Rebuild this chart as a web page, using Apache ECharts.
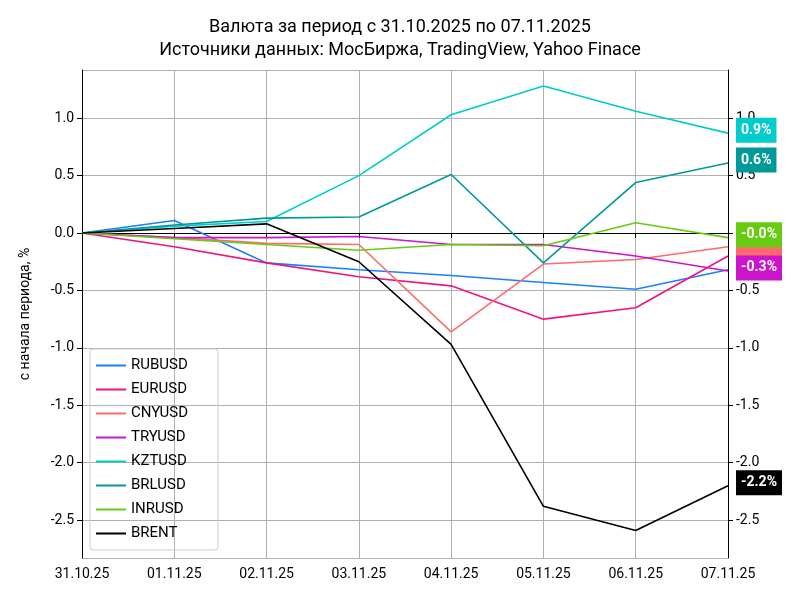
<!DOCTYPE html>
<html><head><meta charset="utf-8">
<script src="https://cdn.jsdelivr.net/npm/echarts@6/dist/echarts.min.js"></script>
<style>html,body{margin:0;padding:0;background:#fff}#c{width:800px;height:600px}</style>
</head><body><div id="c"></div>
<script>
const categories = ['31.10.25','01.11.25','02.11.25','03.11.25','04.11.25','05.11.25','06.11.25','07.11.25'];
const seriesNames = ['RUBUSD','EURUSD','CNYUSD','TRYUSD','KZTUSD','BRLUSD','INRUSD','BRENT'];
const RUBUSD = [0, 0.11, -0.26, -0.32, -0.37, -0.43, -0.49, -0.32];
const EURUSD = [0, -0.12, -0.26, -0.38, -0.46, -0.75, -0.65, -0.20];
const CNYUSD = [0, -0.04, -0.09, -0.10, -0.86, -0.27, -0.23, -0.12];
const TRYUSD = [0, -0.04, -0.04, -0.03, -0.10, -0.10, -0.20, -0.33];
const KZTUSD = [0, 0.06, 0.10, 0.50, 1.03, 1.28, 1.06, 0.87];
const BRLUSD = [0, 0.07, 0.13, 0.14, 0.51, -0.26, 0.44, 0.61];
const INRUSD = [0, -0.05, -0.10, -0.15, -0.10, -0.11, 0.09, -0.04];
const BRENT = [0, 0.04, 0.08, -0.25, -0.97, -2.38, -2.59, -2.20];
const values = [RUBUSD, EURUSD, CNYUSD, TRYUSD, KZTUSD, BRLUSD, INRUSD, BRENT];
const colors = ['#1a80ff','#f0147f','#ff6a6a','#cc14cc','#00cccc','#009999','#66cc11','#000000'];

const chart = echarts.init(document.getElementById('c'));
const fmt = v => (Math.abs(v) < 1e-9 ? 0 : v).toFixed(1);
const yCommon = {type:'value', min:-2.83, max:1.42, splitNumber:8,
  axisLine:{show:true,lineStyle:{color:'#000'}}, axisTick:{show:true,length:5,lineStyle:{color:'#000'}}};
chart.setOption({
  animation:false,
  textStyle:{fontFamily:'Roboto'},
  title:{text:'Валюта за период с 31.10.2025 по 07.11.2025\nИсточники данных: МосБиржа, TradingView, Yahoo Finace',
    left:'center', top:11, textStyle:{fontSize:18, fontWeight:'normal', color:'#000', lineHeight:23, fontFamily:'Roboto'}},
  grid:{left:82, right:72, top:70, bottom:42},
  legend:{orient:'vertical', left:90, bottom:50, itemWidth:30, itemHeight:2, itemGap:9,
    icon:'rect', borderColor:'#ccc', borderWidth:1, borderRadius:3, padding:[9,30,9,6],
    textStyle:{fontSize:15,color:'#000',fontFamily:'Roboto'}, data:seriesNames},
  xAxis:{type:'category', data:categories, boundaryGap:false,
    axisLine:{lineStyle:{color:'#000'}}, axisTick:{show:true,length:5,lineStyle:{color:'#000'}},
    axisLabel:{color:'#000',fontSize:14,margin:9}, splitLine:{show:true,lineStyle:{color:'#b0b0b0'}}},
  yAxis:[
    Object.assign({}, yCommon, {position:'left', name:'с начала периода, %', nameLocation:'middle', nameGap:50,
      nameTextStyle:{fontSize:14,color:'#000'},
      axisLabel:{color:'#000',fontSize:14,formatter:fmt,showMinLabel:false,showMaxLabel:false},
      splitLine:{show:true,lineStyle:{color:'#b0b0b0'}}}),
    Object.assign({}, yCommon, {position:'right',
      axisLabel:{color:'#000',fontSize:14,formatter:fmt,showMinLabel:false,showMaxLabel:false,margin:8},
      splitLine:{show:false}})
  ],
  series: seriesNames.map((n,i)=>({
    name:n, type:'line', data:values[i], symbol:'none', color:colors[i],
    lineStyle:{width:1.6, color:colors[i]},
    endLabel:{show:true, distance:8, formatter:p=>fmt(p.value)+'%', backgroundColor:colors[i],
      color:'#fff', fontWeight:'bold', fontSize:14, padding:[6,5,5,5], offset:[0,-3]}
  }))
});
</script></body></html>
